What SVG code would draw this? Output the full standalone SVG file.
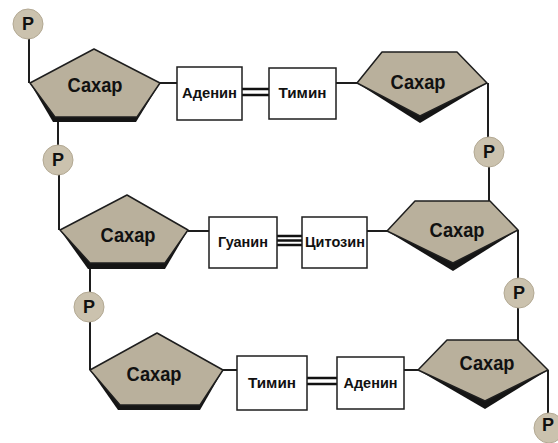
<svg xmlns="http://www.w3.org/2000/svg" width="558" height="443" viewBox="0 0 558 443">
<style>
.sug{fill:#b9b09c;stroke:#1e1e1e;stroke-width:1.5;stroke-linejoin:round}
.sh{fill:#151515}
.box{fill:#fff;stroke:#1e1e1e;stroke-width:1.5}
.p{fill:#cbc2ae;stroke:#b3a993;stroke-width:1}
.ln{stroke:#1e1e1e;stroke-width:2;fill:none}
.bond{stroke:#111;stroke-width:2.4;fill:none}
.ts{font-family:"Liberation Sans",Arial,sans-serif;font-weight:bold;font-size:21px;fill:#111;text-anchor:middle}
.tb{font-family:"Liberation Sans",Arial,sans-serif;font-weight:bold;font-size:15.5px;fill:#111;text-anchor:middle}
.tp{font-family:"Liberation Sans",Arial,sans-serif;font-weight:bold;font-size:18px;fill:#111;text-anchor:middle}
</style>
<rect width="558" height="443" fill="#fff"/>
<g id="connectors">
<path class="ln" d="M29 38 V83"/>
<path class="ln" d="M58 121 V146"/>
<path class="ln" d="M160 83 H177"/>
<path class="ln" d="M336 83 H357"/>
<path class="ln" d="M488 83 V138"/>
<path class="ln" d="M489 166 V201"/>
<path class="ln" d="M59 174 V230"/>
<path class="ln" d="M188 231 H209"/>
<path class="ln" d="M367 231 H387"/>
<path class="ln" d="M90 268 V292"/>
<path class="ln" d="M518 230 V279"/>
<path class="ln" d="M518 307 V340"/>
<path class="ln" d="M90 322 V370"/>
<path class="ln" d="M223 370 H237"/>
<path class="ln" d="M404 370 H418"/>
<path class="ln" d="M548 370 V414"/>
<path class="bond" d="M242 89 H269 M242 95 H269"/>
<path class="bond" d="M277 236 H302 M277 240.5 H302 M277 245 H302"/>
<path class="bond" d="M307 378 H337 M307 384 H337"/>
</g>
<g id="p1"><circle class="p" cx="28" cy="24" r="15"/><text class="tp" x="28" y="30">P</text></g>
<g id="p2"><circle class="p" cx="58" cy="160" r="15"/><text class="tp" x="58" y="166">P</text></g>
<g id="p3"><circle class="p" cx="489" cy="152" r="15"/><text class="tp" x="489" y="158">P</text></g>
<g id="p4"><circle class="p" cx="89" cy="307" r="15"/><text class="tp" x="89" y="313">P</text></g>
<g id="p5"><circle class="p" cx="519" cy="293" r="15"/><text class="tp" x="519" y="299">P</text></g>
<g id="p6"><circle class="p" cx="549" cy="428" r="15"/><text class="tp" x="548" y="431">P</text></g>
<g id="sugar1">
<polygon class="sh" points="30,83 53,122 136,122 160,83"/>
<polygon class="sug" points="30,83 94,49 160,83 137,117 55,117"/>
<text class="ts" x="95" y="92" textLength="55" lengthAdjust="spacingAndGlyphs">Сахар</text>
</g>
<g id="adenine1"><rect class="box" x="177" y="67" width="65" height="53"/><text class="tb" x="209.5" y="98" textLength="55" lengthAdjust="spacingAndGlyphs">Аденин</text></g>
<g id="thymine1"><rect class="box" x="269" y="68" width="67" height="51"/><text class="tb" x="302.5" y="98" textLength="48" lengthAdjust="spacingAndGlyphs">Тимин</text></g>
<g id="sugar2">
<polygon class="sh" points="357,83 420,123 487,83"/>
<polygon class="sug" points="357,83 382,52 457,52 487,83 420,116"/>
<text class="ts" x="418" y="89" textLength="55" lengthAdjust="spacingAndGlyphs">Сахар</text>
</g>
<g id="sugar3">
<polygon class="sh" points="60,230 88,269 165,269 188,230"/>
<polygon class="sug" points="60,230 127,195 188,230 165,263 90,263"/>
<text class="ts" x="128" y="242" textLength="55" lengthAdjust="spacingAndGlyphs">Сахар</text>
</g>
<g id="guanine"><rect class="box" x="209" y="217" width="68" height="51"/><text class="tb" x="243" y="247" textLength="50" lengthAdjust="spacingAndGlyphs">Гуанин</text></g>
<g id="cytosine"><rect class="box" x="302" y="217" width="65" height="51"/><text class="tb" x="335" y="247" textLength="60" lengthAdjust="spacingAndGlyphs">Цитозин</text></g>
<g id="sugar4">
<polygon class="sh" points="387,231 453,271 518,230"/>
<polygon class="sug" points="387,231 415,201 490,201 518,230 453,263"/>
<text class="ts" x="457" y="237" textLength="55" lengthAdjust="spacingAndGlyphs">Сахар</text>
</g>
<g id="sugar5">
<polygon class="sh" points="90,370 118,410 200,410 223,370"/>
<polygon class="sug" points="90,370 157,333 223,370 200,405 120,405"/>
<text class="ts" x="154" y="381" textLength="55" lengthAdjust="spacingAndGlyphs">Сахар</text>
</g>
<g id="thymine2"><rect class="box" x="237" y="356" width="70" height="54"/><text class="tb" x="272" y="388" textLength="48" lengthAdjust="spacingAndGlyphs">Тимин</text></g>
<g id="adenine2"><rect class="box" x="337" y="357" width="67" height="52"/><text class="tb" x="370.5" y="388" textLength="54" lengthAdjust="spacingAndGlyphs">Аденин</text></g>
<g id="sugar6">
<polygon class="sh" points="418,370 485,409 548,370"/>
<polygon class="sug" points="418,370 447,340 518,340 548,370 485,401"/>
<text class="ts" x="487" y="370" textLength="55" lengthAdjust="spacingAndGlyphs">Сахар</text>
</g>
</svg>
